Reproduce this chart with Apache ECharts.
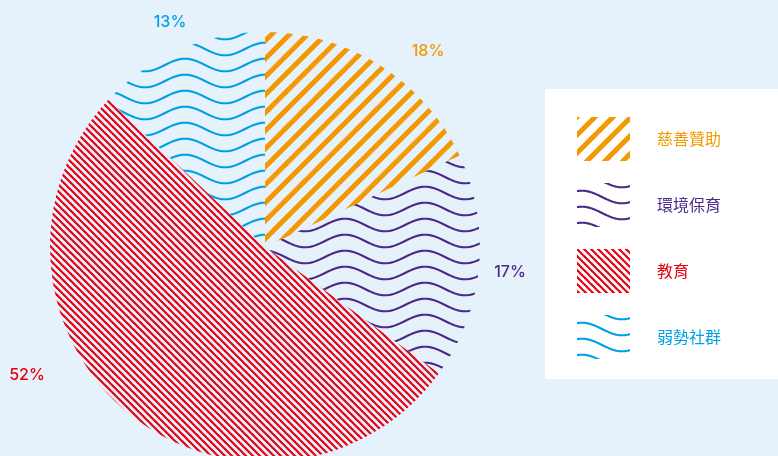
<!DOCTYPE html>
<html>
<head>
<meta charset="utf-8">
<script src="https://cdn.jsdelivr.net/npm/echarts@6/dist/echarts.min.js"></script>
<style>
html,body{margin:0;padding:0;background:#e5f2fb;}
#chart{width:778px;height:456px;}
</style>
</head>
<body>
<div id="chart"></div>
<script>
const categories = ['慈善贊助', '環境保育', '教育', '弱勢社群'];
const values = [18, 17, 52, 13];
const colors = ['#f39800', '#4b2a88', '#e60012', '#00a0e9'];
const patternKinds = ['stripeUp', 'wave', 'stripeDown', 'wave'];
const labelPos = [[428, 51], [510, 272], [27, 375], [170, 22]];
const pieWaveShift = [20, 3];

function makePattern(kind, color, shift) {
  const c = document.createElement('canvas');
  let ctx;
  if (kind === 'stripeUp') {
    const s = 18;
    c.width = s; c.height = s;
    ctx = c.getContext('2d');
    ctx.strokeStyle = color; ctx.lineWidth = 5;
    for (let k = -s; k <= s; k += s) {
      ctx.beginPath(); ctx.moveTo(k - 2, s + 2); ctx.lineTo(k + s + 2, -2); ctx.stroke();
    }
  } else if (kind === 'stripeDown') {
    const s = 7;
    c.width = s; c.height = s;
    ctx = c.getContext('2d');
    ctx.strokeStyle = color; ctx.lineWidth = 2.2;
    for (let k = -s; k <= s; k += s) {
      ctx.beginPath(); ctx.moveTo(k - 2, -2); ctx.lineTo(k + s + 2, s + 2); ctx.stroke();
    }
  } else {
    const P = 80, H = 16, amp = 6.3, xc = 5, cy = 14;
    c.width = P; c.height = H;
    ctx = c.getContext('2d');
    ctx.strokeStyle = color; ctx.lineWidth = 2.1; ctx.lineCap = 'round';
    for (let off = -H; off <= H; off += H) {
      ctx.beginPath();
      for (let x = -2; x <= P + 2; x += 1) {
        const y = cy + off - amp * Math.cos(2 * Math.PI * (x - xc) / P);
        if (x === -2) ctx.moveTo(x, y); else ctx.lineTo(x, y);
      }
      ctx.stroke();
    }
  }
  const pat = { image: c, repeat: 'repeat' };
  if (shift && kind === 'wave') { pat.x = shift[0]; pat.y = shift[1]; }
  return pat;
}

const chart = echarts.init(document.getElementById('chart'));
const data = categories.map((name, i) => ({
  name: name,
  value: values[i],
  itemStyle: { color: makePattern(patternKinds[i], colors[i], pieWaveShift) },
  label: { color: colors[i] }
}));

chart.setOption({
  backgroundColor: '#e5f2fb',
  animation: false,
  graphic: [{
    type: 'rect',
    z: 0,
    shape: { x: 545, y: 89, width: 240, height: 290 },
    style: { fill: '#ffffff' }
  }],
  legend: {
    orient: 'vertical',
    left: 577,
    top: 117,
    padding: 0,
    itemWidth: 53,
    itemHeight: 44,
    itemGap: 22,
    icon: 'rect',
    selectedMode: false,
    z: 5,
    textStyle: {
      fontFamily: '"Noto Sans CJK TC", "Noto Sans", sans-serif',
      fontSize: 16,
      padding: [0, 0, 0, 22]
    },
    data: categories.map((name, i) => ({
      name: name,
      itemStyle: { color: makePattern(patternKinds[i], colors[i], null) },
      textStyle: { color: colors[i] }
    }))
  },
  series: [{
    type: 'pie',
    center: [265, 247],
    radius: 215,
    startAngle: 90,
    clockwise: true,
    silent: true,
    z: 2,
    label: {
      show: true,
      position: 'outside',
      formatter: p => p.value + '%',
      fontFamily: 'Inter, "Liberation Sans", Arial, sans-serif',
      fontSize: 16,
      fontWeight: 500
    },
    labelLine: { show: false },
    labelLayout: function (params) {
      const p = labelPos[params.dataIndex];
      return { x: p[0], y: p[1], align: 'center', verticalAlign: 'middle' };
    },
    emphasis: { disabled: true },
    itemStyle: { borderWidth: 0 },
    data: data
  }]
});
</script>
</body>
</html>
